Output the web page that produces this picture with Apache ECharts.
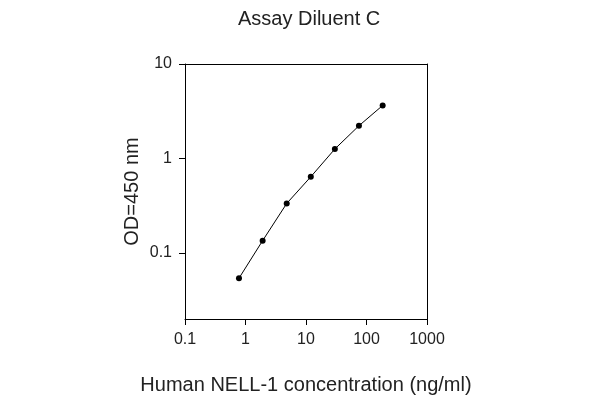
<!DOCTYPE html>
<html>
<head>
<meta charset="utf-8">
<script src="https://cdn.jsdelivr.net/npm/echarts@6/dist/echarts.min.js"></script>
<style>html,body{margin:0;padding:0;background:#fff;}#c{width:600px;height:400px;}</style>
</head>
<body>
<div id="c"></div>
<script>
var concentrations = [0.78, 1.92, 4.8, 12, 30, 75, 185];
var odValues = [0.054, 0.135, 0.334, 0.64, 1.26, 2.22, 3.64];
var xTicks = [0.1, 1, 10, 100, 1000];
var yTicks = [0.1, 1, 10];

var points = concentrations.map(function (c, i) { return [c, odValues[i]]; });
var font = 'Liberation Sans, Arial, sans-serif';
var chart = echarts.init(document.getElementById('c'));
chart.setOption({
  animation: false,
  title: {
    text: 'Assay Diluent C', left: 233, top: 4,
    textStyle: { fontFamily: font, fontSize: 20, fontWeight: 'normal', color: '#222' }
  },
  grid: { left: 185, right: 173, top: 64, bottom: 81 },
  xAxis: [{
    type: 'log', logBase: 10, min: 0.1, max: 1000,
    name: 'Human NELL-1 concentration (ng/ml)', nameLocation: 'middle', nameGap: 56,
    nameTextStyle: { fontFamily: font, fontSize: 20, color: '#222' },
    axisLine: { show: true, lineStyle: { color: '#000', width: 1 } },
    axisTick: { show: true, inside: false, length: 6, customValues: xTicks, lineStyle: { color: '#000' } },
    axisLabel: { customValues: xTicks, fontFamily: font, fontSize: 16, color: '#222', margin: 13,
      formatter: function (v) { return String(v); } },
    splitLine: { show: false }
  }, {
    type: 'log', logBase: 10, min: 0.1, max: 1000, position: 'top',
    axisLine: { show: true, lineStyle: { color: '#000' } }, axisTick: { show: false },
    axisLabel: { show: false }, splitLine: { show: false }
  }],
  yAxis: [{
    type: 'log', logBase: 10, min: 0.02, max: 10,
    name: 'OD=450 nm', nameLocation: 'middle', nameGap: 43, nameRotate: 90,
    nameTextStyle: { fontFamily: font, fontSize: 20, color: '#222' },
    axisLine: { show: true, lineStyle: { color: '#000', width: 1 } },
    axisTick: { show: true, inside: false, length: 6, customValues: yTicks, lineStyle: { color: '#000' } },
    axisLabel: { customValues: yTicks, fontFamily: font, fontSize: 16, color: '#222', margin: 13,
      formatter: function (v) { return String(v); } },
    splitLine: { show: false }
  }, {
    type: 'log', logBase: 10, min: 0.02, max: 10, position: 'right',
    axisLine: { show: true, lineStyle: { color: '#000' } }, axisTick: { show: false },
    axisLabel: { show: false }, splitLine: { show: false }
  }],
  series: [{
    type: 'line', data: points, xAxisIndex: 0, yAxisIndex: 0,
    symbol: 'circle', symbolSize: 6,
    lineStyle: { color: '#000', width: 1 },
    itemStyle: { color: '#000' }
  }]
});
</script>
</body>
</html>
